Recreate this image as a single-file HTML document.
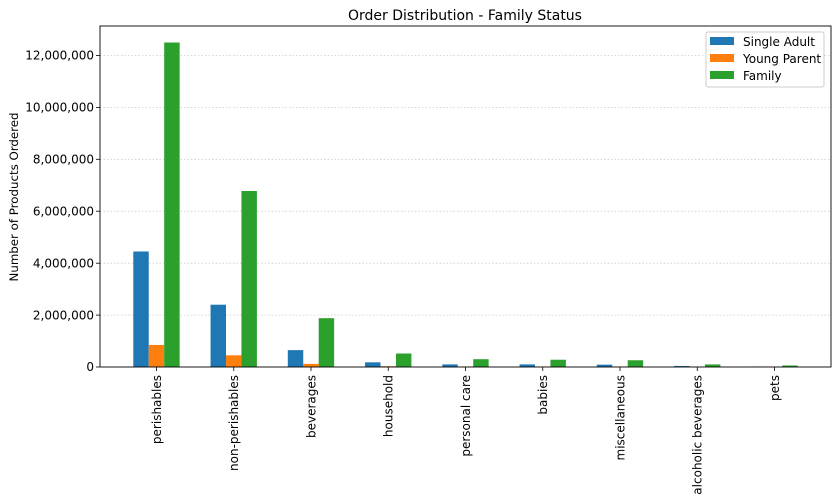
<!DOCTYPE html>
<html><head><meta charset="utf-8"><style>body{margin:0;background:#fff}svg{display:block;font-family:"DejaVu Sans","Liberation Sans",sans-serif}</style></head>
<body>
<svg width="839" height="501" viewBox="0 0 839 501" xmlns="http://www.w3.org/2000/svg">
<text x="465" y="20" font-size="14" text-anchor="middle" fill="#000">Order Distribution - Family Status</text>
<g stroke="#ccc" stroke-dasharray="1.5,2" stroke-width="0.8">
<line x1="100" x2="830" y1="315.1" y2="315.1"/><line x1="100" x2="830" y1="263.2" y2="263.2"/>
<line x1="100" x2="830" y1="211.2" y2="211.2"/><line x1="100" x2="830" y1="159.3" y2="159.3"/>
<line x1="100" x2="830" y1="107.4" y2="107.4"/><line x1="100" x2="830" y1="55.5" y2="55.5"/>
</g>
<g font-size="12" text-anchor="end" fill="#000">
<text x="94" y="371">0</text><text x="94" y="319.3">2,000,000</text><text x="94" y="267.4">4,000,000</text>
<text x="94" y="215.4">6,000,000</text><text x="94" y="163.5">8,000,000</text><text x="94" y="111.6">10,000,000</text><text x="94" y="59.7">12,000,000</text>
</g>
<g stroke="#000" stroke-width="0.8"><line x1="96" x2="100" y1="367" y2="367"/><line x1="96" x2="100" y1="315.1" y2="315.1"/><line x1="96" x2="100" y1="263.2" y2="263.2"/><line x1="96" x2="100" y1="211.2" y2="211.2"/><line x1="96" x2="100" y1="159.3" y2="159.3"/><line x1="96" x2="100" y1="107.4" y2="107.4"/><line x1="96" x2="100" y1="55.5" y2="55.5"/></g>
<text transform="translate(18,197) rotate(-90)" font-size="11.8" text-anchor="middle">Number of Products Ordered</text>
<g id="bars"></g>
<rect x="100" y="26" width="731" height="341" fill="none" stroke="#000" stroke-width="0.9"/>
<g id="xl" font-size="12"></g>
<g>
<rect x="706" y="32" width="118" height="55" rx="2" fill="#fff" fill-opacity="0.85" stroke="#ccc"/>
<rect x="710" y="37" width="24" height="8" fill="#1f77b4"/><text x="743" y="46" font-size="12">Single Adult</text>
<rect x="710" y="54" width="24" height="8" fill="#ff7f0e"/><text x="743" y="63" font-size="12">Young Parent</text>
<rect x="710" y="71" width="24" height="8" fill="#2ca02c"/><text x="743" y="80" font-size="12">Family</text>
</g>
</svg>
<script>
const d=[["perishables",4.45,0.85,12.5],["non-perishables",2.4,0.45,6.78],["beverages",0.65,0.12,1.88],["household",0.18,0.03,0.52],["personal care",0.1,0.02,0.3],["babies",0.1,0.02,0.28],["miscellaneous",0.09,0.02,0.26],["alcoholic beverages",0.04,0.01,0.1],["pets",0.02,0.005,0.06]];
const c=["#1f77b4","#ff7f0e","#2ca02c"];const ns="http://www.w3.org/2000/svg";
const b=document.getElementById("bars"),xl=document.getElementById("xl");
d.forEach((r,i)=>{const x=156.5+i*77.25;for(let k=0;k<3;k++){const h=r[k+1]*25.96;const e=document.createElementNS(ns,"rect");e.setAttribute("x",x-23.2+k*15.45);e.setAttribute("y",367-h);e.setAttribute("width",15.45);e.setAttribute("height",h);e.setAttribute("fill",c[k]);b.appendChild(e);}
const t=document.createElementNS(ns,"line");t.setAttribute("x1",x);t.setAttribute("x2",x);t.setAttribute("y1",367);t.setAttribute("y2",371);t.setAttribute("stroke","#000");t.setAttribute("stroke-width","0.8");xl.appendChild(t);
const tx=document.createElementNS(ns,"text");tx.setAttribute("transform",`translate(${x+4.3},375) rotate(-90)`);tx.setAttribute("text-anchor","end");tx.textContent=r[0];xl.appendChild(tx);});
</script>
</body></html>
